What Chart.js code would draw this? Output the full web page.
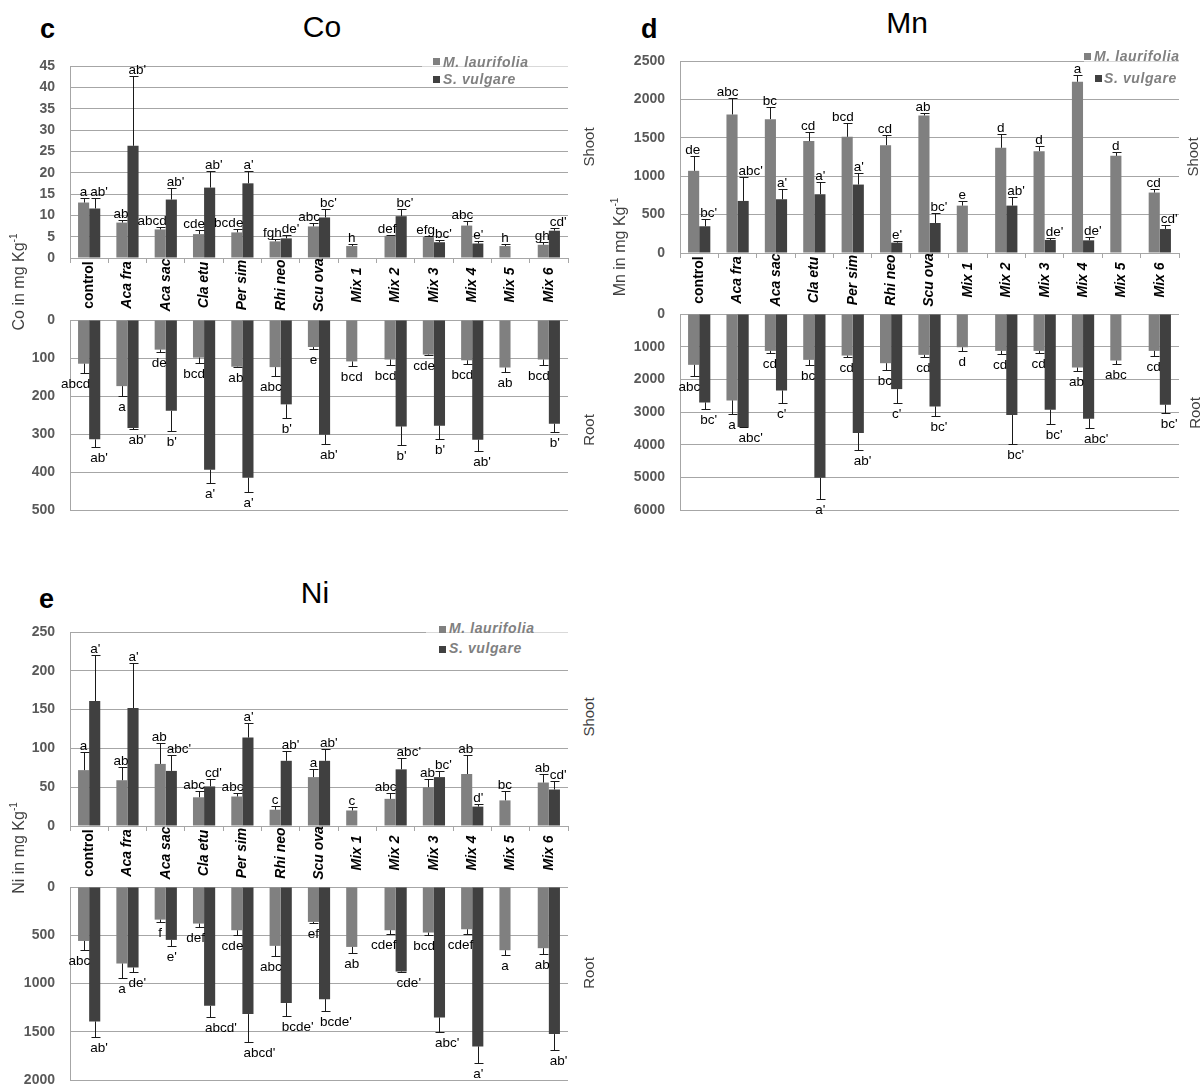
<!DOCTYPE html>
<html>
<head>
<meta charset="utf-8">
<script src="https://cdn.jsdelivr.net/npm/chart.js@4.4.1/dist/chart.umd.min.js"></script>
<style>
  body { margin: 0; background: #fff; }
  #page { position: relative; width: 1204px; height: 1089px; overflow: hidden; font-family: "Liberation Sans", Arial, sans-serif; }
  canvas { position: absolute; }
  .t { position: absolute; line-height: 1; white-space: nowrap; color: #000; }
  .rot { position: absolute; white-space: nowrap; line-height: 1; transform: translate(-50%, -50%) rotate(-90deg); color: #404040; }
  .lg { position: absolute; line-height: 1; white-space: nowrap; font-weight: bold; font-style: italic; font-size: 14px; letter-spacing: 0.6px; color: #808080; }
  .sq { position: absolute; width: 7px; height: 7px; }
  .wb { position: absolute; background: #fff; }
  .ln { position: absolute; height: 1px; background: #d9d9d9; }
</style>
</head>
<body>
<div id="page">
  <canvas id="coShoot" width="575" height="264" style="left:0;top:54px;width:575px;height:264px"></canvas>
  <canvas id="coRoot" width="575" height="216" style="left:0;top:308px;width:575px;height:216px"></canvas>
  <canvas id="mnShoot" width="576" height="264" style="left:610px;top:49px;width:576px;height:264px"></canvas>
  <canvas id="mnRoot" width="576" height="222" style="left:610px;top:302px;width:576px;height:222px"></canvas>
  <canvas id="niShoot" width="575" height="266" style="left:0;top:620px;width:575px;height:266px"></canvas>
  <canvas id="niRoot" width="575" height="217" style="left:0;top:875px;width:575px;height:217px"></canvas>

  <!-- panel letters and titles -->
  <div class="t" style="left:40px;top:16px;font-size:27px;font-weight:bold">c</div>
  <div class="t" style="left:322px;top:12px;font-size:30px;transform:translateX(-50%)">Co</div>
  <div class="t" style="left:641px;top:16px;font-size:27px;font-weight:bold">d</div>
  <div class="t" style="left:907px;top:8px;font-size:30px;transform:translateX(-50%)">Mn</div>
  <div class="t" style="left:39px;top:586px;font-size:27px;font-weight:bold">e</div>
  <div class="t" style="left:315px;top:578px;font-size:30px;transform:translateX(-50%)">Ni</div>

  <!-- axis titles -->
  <div class="rot" style="left:18px;top:282px;font-size:16px">Co in mg Kg<sup style="font-size:10px">-1</sup></div>
  <div class="rot" style="left:619px;top:247px;font-size:16px">Mn in mg Kg<sup style="font-size:10px">-1</sup></div>
  <div class="rot" style="left:18px;top:848px;font-size:16px">Ni in mg Kg<sup style="font-size:10px">-1</sup></div>
  <div class="rot" style="left:588px;top:147px;font-size:15px">Shoot</div>
  <div class="rot" style="left:588px;top:430px;font-size:15px">Root</div>
  <div class="rot" style="left:1192px;top:157px;font-size:15px">Shoot</div>
  <div class="rot" style="left:1194px;top:413px;font-size:15px">Root</div>
  <div class="rot" style="left:588px;top:717px;font-size:15px">Shoot</div>
  <div class="rot" style="left:588px;top:973px;font-size:15px">Root</div>

  <!-- legends -->
  <div class="wb" style="left:422px;top:55px;width:146px;height:29px"></div>
  <div class="ln" style="left:422px;top:66px;width:146px"></div>
  <div class="sq" style="left:433px;top:58px;background:#808080"></div>
  <div class="lg" style="left:443px;top:55px">M. laurifolia</div>
  <div class="sq" style="left:433px;top:76px;background:#404040"></div>
  <div class="lg" style="left:443px;top:72px">S. vulgare</div>

  <div class="wb" style="left:1084px;top:51px;width:99px;height:14px"></div>
  <div class="ln" style="left:1084px;top:61px;width:95px"></div>
  <div class="sq" style="left:1084px;top:53px;background:#808080"></div>
  <div class="lg" style="left:1094px;top:49px">M. laurifolia</div>
  <div class="sq" style="left:1095px;top:75px;background:#404040"></div>
  <div class="lg" style="left:1104px;top:71px">S. vulgare</div>

  <div class="wb" style="left:426px;top:620px;width:142px;height:40px"></div>
  <div class="ln" style="left:426px;top:632px;width:142px"></div>
  <div class="sq" style="left:439px;top:626px;background:#808080"></div>
  <div class="lg" style="left:449px;top:621px">M. laurifolia</div>
  <div class="sq" style="left:439px;top:646px;background:#404040"></div>
  <div class="lg" style="left:449px;top:641px">S. vulgare</div>
</div>

<script>
// categories shared by every panel
const categories = ['control', 'Aca fra', 'Aca sac', 'Cla etu', 'Per sim', 'Rhi neo', 'Scu ova',
                    'Mix 1', 'Mix 2', 'Mix 3', 'Mix 4', 'Mix 5', 'Mix 6'];

// --- Co (panel c) ---
const coShootML    = [13.0, 8.3, 6.7, 5.6, 6.0, 3.9, 7.4, 2.8, 5.2, 4.9, 7.6, 2.8, 3.1];
const coShootMLErr = [14.1, 8.9, 7.3, 6.5, 6.7, 4.4, 8.3, 3.2, 5.4, 5.2, 8.7, 3.3, 3.7];
const coShootSV    = [11.6, 26.3, 13.7, 16.5, 17.5, 4.6, 9.5, null, 9.8, 3.7, 3.4, null, 6.4];
const coShootSVErr = [14.1, 42.7, 16.5, 20.3, 20.3, 5.3, 11.4, null, 11.4, 4.3, 4.0, null, 7.1];
const coShootMLLab = ['a', 'ab', 'abcd', 'cde', 'bcde', 'fgh', 'abc', 'h', 'def', 'efg', 'abc', 'h', 'gh'];
const coShootSVLab = ["ab'", "ab'", "ab'", "ab'", "a'", "de'", "bc'", '', "bc'", "bc'", "e'", '', "cd'"];

const coRootML    = [115, 174, 78, 99, 123, 124, 71, 109, 104, 91, 106, 125, 104];
const coRootMLErr = [139, 199, 84, 112, 124, 147, 76, 121, 118, 92, 115, 137, 118];
const coRootSV    = [314, 284, 239, 394, 415, 222, 302, null, 280, 278, 315, null, 273];
const coRootSVErr = [333, 286, 291, 428, 452, 259, 326, null, 330, 314, 346, null, 295];
const coRootMLLab = ['abcd', 'a', 'de', 'bcd', 'ab', 'abc', 'e', 'bcd', 'bcd', 'cde', 'bcd', 'ab', 'bcd'];
const coRootSVLab = ["ab'", "ab'", "b'", "a'", "a'", "b'", "ab'", '', "b'", "b'", "ab'", '', "b'"];

// --- Mn (panel d) ---
const mnShootML    = [1070, 1804, 1743, 1457, 1513, 1404, 1791, 617, 1370, 1326, 2230, 1265, 787];
const mnShootMLErr = [1261, 2022, 1904, 1578, 1687, 1535, 1817, 674, 1543, 1391, 2317, 1317, 839];
const mnShootSV    = [348, 678, 700, 765, 891, 135, 391, null, 617, 170, 165, null, 313];
const mnShootSVErr = [448, 991, 839, 926, 1048, 157, 522, null, 730, 191, 209, null, 361];
const mnShootMLLab = ['de', 'abc', 'bc', 'cd', 'bcd', 'cd', 'ab', 'e', 'd', 'd', 'a', 'd', 'cd'];
const mnShootSVLab = ["bc'", "abc'", "a'", "a'", "a'", "e'", "bc'", '', "ab'", "de'", "de'", '', "cd'"];

const mnRootML    = [1556, 2645, 1129, 1404, 1272, 1506, 1251, 1017, 1129, 1129, 1638, 1424, 1129];
const mnRootMLErr = [1912, 3062, 1180, 1556, 1322, 1709, 1322, 1119, 1221, 1200, 1740, 1526, 1282];
const mnRootSV    = [2706, 3459, 2340, 5015, 3642, 2299, 2828, null, 3093, 2930, 3204, null, 2777];
const mnRootSVErr = [2909, 3469, 2726, 5676, 4150, 2726, 3113, null, 3967, 3367, 3479, null, 3031];
const mnRootMLLab = ['abc', 'a', 'cd', 'bc', 'cd', 'bc', 'cd', 'd', 'cd', 'cd', 'ab', 'abc', 'cd'];
const mnRootSVLab = ["bc'", "abc'", "c'", "a'", "ab'", "c'", "bc'", '', "bc'", "bc'", "abc'", '', "bc'"];

// --- Ni (panel e) ---
const niShootML    = [72, 59, 80, 37, 38, 21, 63, 20, 35, 50, 67, 33, 56];
const niShootMLErr = [95, 76, 107, 45, 43, 26, 74, 24, 43, 60, 91, 45, 67];
const niShootSV    = [161, 152, 71, 51, 114, 84, 84, null, 73, 63, 25, null, 47];
const niShootSVErr = [220, 210, 92, 60, 133, 97, 99, null, 88, 71, 28, null, 58];
const niShootMLLab = ['a', 'ab', 'ab', 'abc', 'abc', 'c', 'a', 'c', 'abc', 'ab', 'ab', 'bc', 'ab'];
const niShootSVLab = ["a'", "a'", "abc'", "cd'", "a'", "ab'", "ab'", '', "abc'", "bc'", "d'", '', "cd'"];

const niRootML    = [559, 793, 338, 379, 448, 610, 362, 621, 448, 472, 438, 655, 634];
const niRootMLErr = [655, 948, 362, 410, 497, 714, 376, 679, 483, 500, 483, 703, 697];
const niRootSV    = [1393, 834, 548, 1231, 1317, 1203, 1162, null, 876, 1352, 1652, null, 1524];
const niRootSVErr = [1559, 886, 610, 1345, 1610, 1334, 1290, null, 879, 1500, 1824, null, 1690];
const niRootMLLab = ['abc', 'a', 'f', 'def', 'cde', 'abc', 'ef', 'ab', 'cdef', 'bcd', 'cdef', 'a', 'ab'];
const niRootSVLab = ["ab'", "de'", "e'", "abcd'", "abcd'", "bcde'", "bcde'", '', "cde'", "abc'", "a'", '', "ab'"];

const ML_COLOR = '#808080';
const SV_COLOR = '#404040';
const GRID = '#a6a6a6';
const SANS = '"Liberation Sans", Arial, sans-serif';

// error whiskers (one-sided, away from zero) + significance letters
const marksPlugin = {
  id: 'marks',
  afterDatasetsDraw(chart) {
    const { ctx } = chart;
    const ys = chart.scales.y, xs = chart.scales.x;
    const down = chart.options.scales.y.reverse;
    const sv = chart.data.datasets[1].data;
    ctx.save();
    ctx.font = '13.5px ' + SANS;
    ctx.fillStyle = '#000';
    ctx.textAlign = 'center';
    chart.data.datasets.forEach((ds, di) => {
      chart.getDatasetMeta(di).data.forEach((bar, i) => {
        if (ds.data[i] == null) return;
        const yEnd = Math.round(ys.getPixelForValue(ds.err[i])) + 0.5;
        const x = Math.round(bar.x) + 0.5;
        ctx.strokeStyle = '#1a1a1a';
        ctx.lineWidth = 1;
        ctx.beginPath();
        ctx.moveTo(x, bar.y);
        ctx.lineTo(x, yEnd);
        ctx.moveTo(x - 4, yEnd);
        ctx.lineTo(x + 5, yEnd);
        ctx.stroke();

        const txt = ds.letters[i];
        if (!txt) return;
        const w = ctx.measureText(txt).width;
        const mid = xs.getPixelForValue(i);
        let cx = bar.x;
        if (sv[i] != null) {
          // keep the two letters of a pair from running into each other
          cx = di === 0 ? Math.min(cx, mid + 1 - w / 2) : Math.max(cx, mid + 1 + w / 2);
        }
        if (down) {
          ctx.textBaseline = 'top';
          ctx.fillText(txt, cx, yEnd + 4);
        } else {
          ctx.textBaseline = 'alphabetic';
          ctx.fillText(txt, cx, yEnd - 3);
        }
      });
    });
    ctx.restore();
  }
};

// rotated category names, centred in the band between shoot and root plots
const catsPlugin = {
  id: 'cats',
  afterDraw(chart, args, opts) {
    if (!opts.show) return;
    const { ctx } = chart;
    const xs = chart.scales.x;
    const yc = chart.chartArea.bottom + 27;
    ctx.save();
    ctx.fillStyle = '#000';
    ctx.textAlign = 'center';
    ctx.textBaseline = 'middle';
    chart.data.labels.forEach((c, i) => {
      ctx.save();
      ctx.translate(xs.getPixelForValue(i), yc);
      ctx.rotate(-Math.PI / 2);
      ctx.font = (i === 0 ? 'bold ' : 'italic bold ') + '14px ' + SANS;
      ctx.fillText(c, 0, 0);
      ctx.restore();
    });
    ctx.restore();
  }
};

function makeChart(id, o) {
  return new Chart(document.getElementById(id), {
    type: 'bar',
    data: {
      labels: categories,
      datasets: [
        { label: 'M. laurifolia', data: o.ml, err: o.mlErr, letters: o.mlLab, backgroundColor: ML_COLOR, borderWidth: 0 },
        { label: 'S. vulgare', data: o.sv, err: o.svErr, letters: o.svLab, backgroundColor: SV_COLOR, borderWidth: 0 },
      ],
    },
    options: {
      responsive: false,
      animation: false,
      devicePixelRatio: 1,
      layout: { autoPadding: false, padding: { top: 12, right: 7, bottom: o.shoot ? 0 : o.padBottom, left: 0 } },
      datasets: { bar: { categoryPercentage: 0.58, barPercentage: 1 } },
      plugins: { legend: { display: false }, tooltip: { enabled: false }, cats: { show: o.shoot } },
      scales: {
        x: {
          display: o.shoot,
          grid: { display: true, drawOnChartArea: false, drawTicks: true, tickLength: 5, color: GRID, offset: true },
          border: { color: GRID },
          ticks: { display: false },
          afterFit: (s) => { if (o.shoot) s.height = 60; },
        },
        y: {
          min: 0,
          max: o.max,
          reverse: !o.shoot,
          ticks: {
            stepSize: o.step, padding: 3, color: '#595959',
            font: { family: SANS, size: 14, weight: 'bold' },
            callback: (v) => String(v),
          },
          // invisible tick marks give the gap between labels and axis
          grid: { color: GRID, drawTicks: true, tickLength: 12, tickColor: 'rgba(0,0,0,0)' },
          border: { color: GRID },
          afterFit: (s) => { s.width = 70; },
        },
      },
    },
    plugins: [marksPlugin, catsPlugin],
  });
}

makeChart('coShoot', { shoot: true, max: 45, step: 5,
  ml: coShootML, mlErr: coShootMLErr, mlLab: coShootMLLab, sv: coShootSV, svErr: coShootSVErr, svLab: coShootSVLab });
makeChart('coRoot', { shoot: false, max: 500, step: 100, padBottom: 14,
  ml: coRootML, mlErr: coRootMLErr, mlLab: coRootMLLab, sv: coRootSV, svErr: coRootSVErr, svLab: coRootSVLab });
makeChart('mnShoot', { shoot: true, max: 2500, step: 500,
  ml: mnShootML, mlErr: mnShootMLErr, mlLab: mnShootMLLab, sv: mnShootSV, svErr: mnShootSVErr, svLab: mnShootSVLab });
makeChart('mnRoot', { shoot: false, max: 6000, step: 1000, padBottom: 14,
  ml: mnRootML, mlErr: mnRootMLErr, mlLab: mnRootMLLab, sv: mnRootSV, svErr: mnRootSVErr, svLab: mnRootSVLab });
makeChart('niShoot', { shoot: true, max: 250, step: 50,
  ml: niShootML, mlErr: niShootMLErr, mlLab: niShootMLLab, sv: niShootSV, svErr: niShootSVErr, svLab: niShootSVLab });
makeChart('niRoot', { shoot: false, max: 2000, step: 500, padBottom: 12,
  ml: niRootML, mlErr: niRootMLErr, mlLab: niRootMLLab, sv: niRootSV, svErr: niRootSVErr, svLab: niRootSVLab });
</script>
</body>
</html>
